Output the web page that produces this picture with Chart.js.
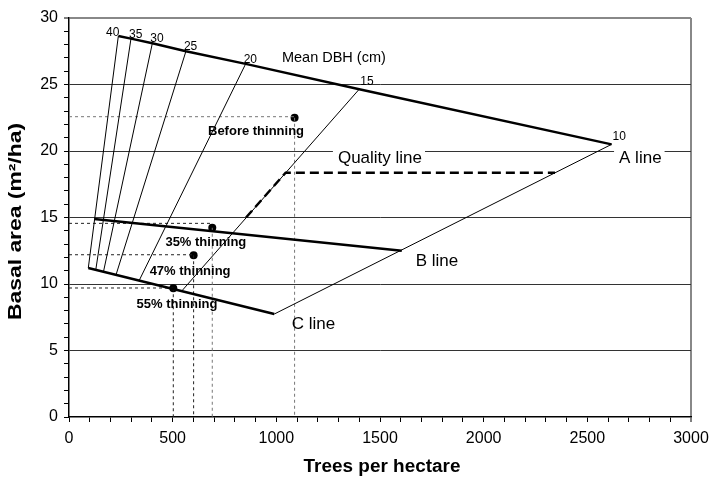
<!DOCTYPE html>
<html>
<head>
<meta charset="utf-8">
<script src="https://cdn.jsdelivr.net/npm/chart.js@4.4.1/dist/chart.umd.min.js"></script>
<style>
  html, body { margin: 0; padding: 0; background: #fff; }
  #wrap { width: 713px; height: 479px; }
</style>
</head>
<body>
<div id="wrap"><canvas id="myChart"></canvas></div>
<script>
// mean DBH iso-lines: where each one meets the A line (top) and the C line (bottom)
const dbhClasses = [40, 35, 30, 25, 20, 15, 10];
const dbhTopTrees = [238, 299, 402, 564, 852, 1400, 2617];
const dbhTopBasal = [28.65, 28.45, 28.1, 27.5, 26.55, 24.65, 20.5];
const dbhBottomTrees = [93, 129, 166, 227, 338, 543, 990];
const dbhBottomBasal = [11.2, 11.05, 10.9, 10.7, 10.25, 9.46, 7.74];

const bLineTrees = [122, 1605];
const bLineBasal = [14.89, 12.5];
const cLineTrees = [93, 990];
const cLineBasal = [11.2, 7.74];

const qualityTrees = [854, 1045, 2344];
const qualityBasal = [15.0, 18.37, 18.37];

const stageNames = ['Before thinning', '35% thinning', '47% thinning', '55% thinning'];
const stageTrees = [1088, 691, 601, 503];
const stageBasal = [22.5, 14.23, 12.16, 9.68];
const stageGuideBasal = [22.58, 14.56, 12.2, 9.7];

const xTickLabels = [0, 500, 1000, 1500, 2000, 2500, 3000];
const yTickLabels = [0, 5, 10, 15, 20, 25, 30];

const FONT = '"Liberation Sans", Arial, sans-serif';

function pts(xs, ys) {
    return xs.map((x, i) => ({ x: x, y: ys[i] }));
}

let datasets = [];

// A line goes through the top end of every DBH line
datasets.push({ data: pts(dbhTopTrees, dbhTopBasal), borderColor: '#000', borderWidth: 2.5 });
datasets.push({ data: pts(bLineTrees, bLineBasal), borderColor: '#000', borderWidth: 2.5 });
datasets.push({ data: pts(cLineTrees, cLineBasal), borderColor: '#000', borderWidth: 2.5 });

for (let i = 0; i < dbhClasses.length; i++) {
    datasets.push({
        data: [{ x: dbhBottomTrees[i], y: dbhBottomBasal[i] }, { x: dbhTopTrees[i], y: dbhTopBasal[i] }],
        borderColor: '#000',
        borderWidth: 1
    });
}

datasets.push({ data: pts(qualityTrees, qualityBasal), borderColor: '#000', borderWidth: 2.5, borderDash: [9, 5] });

for (let i = 0; i < stageNames.length; i++) {
    let col = i == 0 ? '#777' : '#222';
    datasets.push({
        data: [{ x: 0, y: stageGuideBasal[i] }, { x: stageTrees[i], y: stageGuideBasal[i] }],
        borderColor: col, borderWidth: 1, borderDash: [3, 3]
    });
    datasets.push({
        data: [{ x: stageTrees[i], y: stageBasal[i] }, { x: stageTrees[i], y: 0 }],
        borderColor: i < 2 ? '#777' : '#222', borderWidth: 1, borderDash: [3, 3]
    });
}

datasets.push({
    data: pts(stageTrees, stageBasal),
    showLine: false,
    pointRadius: 4,
    pointBackgroundColor: '#000',
    pointBorderWidth: 0
});

datasets.forEach(d => {
    if (d.showLine === undefined) d.showLine = true;
    if (d.pointRadius === undefined) d.pointRadius = 0;
    d.fill = false;
});

// text placed in data units
const notes = [
    { text: 'Mean DBH (cm)', x: 1027, y: 27.0, size: 14.5 },
    { text: 'Quality line', x: 1297, y: 19.45, size: 17, box: true },
    { text: 'A line', x: 2653, y: 19.45, size: 17, box: true },
    { text: 'B line', x: 1672, y: 11.73, size: 17 },
    { text: 'C line', x: 1074, y: 6.97, size: 17 },
    { text: stageNames[0], x: 902, y: 21.45, size: 13, bold: true, center: true },
    { text: stageNames[1], x: 660, y: 13.1, size: 13, bold: true, center: true },
    { text: stageNames[2], x: 584, y: 10.98, size: 13, bold: true, center: true },
    { text: stageNames[3], x: 521, y: 8.5, size: 13, bold: true, center: true }
];

const textPlugin = {
    id: 'texts',
    afterDatasetsDraw(chart) {
        const ctx = chart.ctx;
        const xs = chart.scales.x, ys = chart.scales.y;
        ctx.save();
        ctx.fillStyle = '#000';
        ctx.textBaseline = 'middle';

        notes.forEach(n => {
            ctx.font = (n.bold ? 'bold ' : '') + n.size + 'px ' + FONT;
            let px = xs.getPixelForValue(n.x), py = ys.getPixelForValue(n.y);
            let w = ctx.measureText(n.text).width;
            let left = n.center ? px - w / 2 : px;
            if (n.box) {
                ctx.fillStyle = '#fff';
                ctx.fillRect(left - 5, py - 9, w + 8, 18);
                ctx.fillStyle = '#000';
            }
            ctx.textAlign = 'left';
            ctx.fillText(n.text, left, py);
        });

        // DBH class numbers above the A line
        ctx.font = '12px ' + FONT;
        ctx.textBaseline = 'alphabetic';
        for (let i = 0; i < dbhClasses.length; i++) {
            let px = xs.getPixelForValue(dbhTopTrees[i]);
            let py = ys.getPixelForValue(dbhTopBasal[i]);
            if (i == 0) {
                ctx.textAlign = 'right';
                ctx.fillText(String(dbhClasses[i]), px + 1, py);
            } else {
                ctx.textAlign = 'left';
                ctx.fillText(String(dbhClasses[i]), px - 2 + (i >= 5 ? 3 : 0), py - 1 - (i >= 5 ? 3 : 0));
            }
        }

        // axis titles
        ctx.font = 'bold 18px ' + FONT;
        ctx.textAlign = 'center';
        ctx.textBaseline = 'middle';
        let t = 'Basal area (m²/ha)';
        ctx.save();
        ctx.translate(16, (chart.chartArea.top + chart.chartArea.bottom) / 2 + 4);
        ctx.rotate(-Math.PI / 2);
        ctx.scale(197 / ctx.measureText(t).width, 1);
        ctx.fillText(t, 0, 0);
        ctx.restore();

        t = 'Trees per hectare';
        ctx.save();
        ctx.translate((chart.chartArea.left + chart.chartArea.right) / 2 + 2, 467);
        ctx.scale(157 / ctx.measureText(t).width, 1);
        ctx.fillText(t, 0, 0);
        ctx.restore();

        ctx.restore();
    }
};

const ctx = document.getElementById('myChart');

new Chart(ctx, {
    type: 'scatter',
    data: { datasets: datasets },
    plugins: [textPlugin],
    options: {
        responsive: true,
        maintainAspectRatio: false,
        animation: false,
        layout: { padding: { left: 0, right: 22, top: 18, bottom: 0 } },
        plugins: { legend: { display: false }, tooltip: { enabled: false } },
        elements: { line: { tension: 0 } },
        scales: {
            x: {
                type: 'linear',
                min: 0,
                max: 3000,
                afterFit: s => {
                    s.height = 62;
                    s.paddingLeft = 0;
                    s.paddingRight = 0;
                },
                afterBuildTicks: s => {
                    let t = [];
                    for (let v = 0; v <= 3000; v += 100) t.push({ value: v });
                    s.ticks = t;
                },
                ticks: {
                    autoSkip: false,
                    maxRotation: 0,
                    padding: 7,
                    color: '#000',
                    font: { family: FONT, size: 16 },
                    callback: v => xTickLabels.includes(v) ? String(v) : ''
                },
                grid: {
                    color: c => (c.tick && c.tick.value == 3000) ? '#888' : 'rgba(0,0,0,0)',
                    lineWidth: c => (c.tick && c.tick.value == 3000) ? 2 : 1,
                    tickColor: '#000',
                    tickWidth: 1,
                    tickLength: 5
                },
                border: { color: '#000', width: 1.5 }
            },
            y: {
                type: 'linear',
                min: 0,
                max: 30,
                afterFit: s => { s.width = 69; },
                afterBuildTicks: s => {
                    let t = [];
                    for (let v = 0; v <= 30; v += 1) t.push({ value: v });
                    s.ticks = t;
                },
                ticks: {
                    autoSkip: false,
                    padding: 6,
                    color: '#000',
                    font: { family: FONT, size: 16 },
                    callback: v => yTickLabels.includes(v) ? String(v) : ''
                },
                grid: {
                    color: c => {
                        if (!c.tick) return 'rgba(0,0,0,0)';
                        let v = c.tick.value;
                        if (v == 30) return '#888';
                        if (v > 0 && v % 5 == 0) return '#333';
                        return 'rgba(0,0,0,0)';
                    },
                    lineWidth: c => (c.tick && c.tick.value == 30) ? 2 : 1,
                    tickColor: '#000',
                    tickWidth: 1,
                    tickLength: 5
                },
                border: { color: '#000', width: 1.5 }
            }
        }
    }
});
</script>
</body>
</html>
